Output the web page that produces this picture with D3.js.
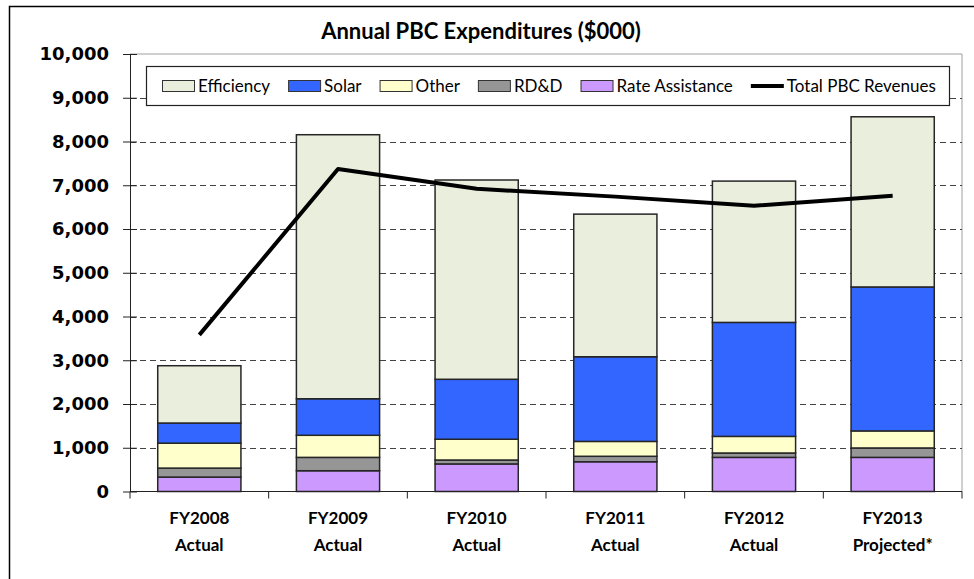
<!DOCTYPE html>
<html>
<head>
<meta charset="utf-8">
<title>Annual PBC Expenditures</title>
<style>
  body { margin: 0; background: #fff; }
  svg { display: block; }
</style>
</head>
<body>
<div id="container"></div>
<script src="https://cdn.jsdelivr.net/npm/d3@7"></script>
<script>

// values ($000)
const categories = ["FY2008", "FY2009", "FY2010", "FY2011", "FY2012", "FY2013"];
const subLabels = ["Actual", "Actual", "Actual", "Actual", "Actual", "Projected*"];
const rateAssistance = [330, 475, 630, 680, 780, 780];
const rdd = [205, 305, 90, 125, 100, 215];
const other = [570, 505, 475, 340, 380, 390];
const solar = [460, 835, 1370, 1935, 2605, 3290];
const efficiency = [1310, 6035, 4555, 3260, 3230, 3890];
const revenues = [3580, 7370, 6920, 6740, 6530, 6760];
const yTicks = [0, 1000, 2000, 3000, 4000, 5000, 6000, 7000, 8000, 9000, 10000];

const series = [
  { key: "Rate Assistance", values: rateAssistance, color: "#cc99ff" },
  { key: "RD&D", values: rdd, color: "#969696" },
  { key: "Other", values: other, color: "#ffffcc" },
  { key: "Solar", values: solar, color: "#3366ff" },
  { key: "Efficiency", values: efficiency, color: "#eaeedc" }
];
const legendOrder = ["Efficiency", "Solar", "Other", "RD&D", "Rate Assistance"];

const width = 974;
const height = 579;
const plotLeft = 130, plotRight = 962, plotTop = 54, plotBottom = 491.5;

const rows = categories.map((c, i) => {
  const o = { cat: c };
  series.forEach(s => { o[s.key] = s.values[i]; });
  return o;
});
const stacked = d3.stack().keys(series.map(s => s.key))(rows);
const colorOf = k => series.find(s => s.key === k).color;

const x = d3.scaleBand()
  .domain(categories)
  .range([plotLeft, plotRight])
  .paddingInner(0.4)
  .paddingOuter(0.2);

const y = d3.scaleLinear()
  .domain([0, 10000])
  .range([plotBottom, plotTop]);

const svg = d3.select("#container")
  .append("svg")
  .attr("width", width)
  .attr("height", height);

// outer frame of the picture
svg.append("path")
  .attr("d", `M9.5,${height} V6.5 H${width}`)
  .attr("fill", "none")
  .attr("stroke", "#000")
  .attr("stroke-width", 1.5);

svg.append("text")
  .attr("x", 481)
  .attr("y", 39)
  .attr("text-anchor", "middle")
  .style("font-family", "Lato, 'Noto Sans', sans-serif")
  .style("font-weight", "bold")
  .style("font-size", "22px")
  .text("Annual PBC Expenditures ($000)");

// plot border (top and right)
svg.append("path")
  .attr("d", `M${plotLeft},${plotTop} H${plotRight} V${plotBottom}`)
  .attr("fill", "none")
  .attr("stroke", "#a0a0a0")
  .attr("stroke-width", 1);

// dashed gridlines
svg.append("g")
  .selectAll("line")
  .data(yTicks.filter(t => t > 0 && t < 10000))
  .join("line")
    .attr("x1", plotLeft)
    .attr("x2", plotRight)
    .attr("y1", d => Math.round(y(d)) + 0.5)
    .attr("y2", d => Math.round(y(d)) + 0.5)
    .attr("stroke", "#444")
    .attr("stroke-width", 1)
    .attr("stroke-dasharray", "6,4");

// bars
svg.append("g")
  .selectAll("g")
  .data(stacked)
  .join("g")
    .attr("fill", d => colorOf(d.key))
  .selectAll("rect")
  .data(d => d)
  .join("rect")
    .attr("x", d => x(d.data.cat))
    .attr("y", d => y(d[1]))
    .attr("width", x.bandwidth())
    .attr("height", d => y(d[0]) - y(d[1]))
    .attr("stroke", "#262626")
    .attr("stroke-width", 1.5);

// revenue line
const line = d3.line()
  .x((d, i) => x(categories[i]) + x.bandwidth() / 2)
  .y(d => y(d));

svg.append("path")
  .datum(revenues)
  .attr("d", line)
  .attr("fill", "none")
  .attr("stroke", "#000")
  .attr("stroke-width", 4)
  .attr("stroke-linejoin", "round");

// y axis
const yAxis = d3.axisLeft(y)
  .tickValues(yTicks)
  .tickSizeInner(7)
  .tickSizeOuter(0)
  .tickPadding(14)
  .tickFormat(d3.format(","));

const gy = svg.append("g")
  .attr("transform", `translate(${plotLeft},0)`)
  .call(yAxis);
gy.select(".domain").attr("stroke", "#222");
gy.selectAll(".tick line").attr("x1", -7).attr("x2", 7).attr("stroke", "#222");
gy.selectAll(".tick text")
  .style("font-family", "'DejaVu Sans', Verdana, sans-serif")
  .style("font-weight", "bold")
  .style("font-size", "18px")
  .attr("fill", "#000");

// x axis
svg.append("line")
  .attr("x1", plotLeft).attr("x2", plotRight)
  .attr("y1", plotBottom).attr("y2", plotBottom)
  .attr("stroke", "#222");

const step = x.step();
svg.append("g")
  .selectAll("line")
  .data(d3.range(categories.length + 1))
  .join("line")
    .attr("x1", i => plotLeft + i * step)
    .attr("x2", i => plotLeft + i * step)
    .attr("y1", plotBottom)
    .attr("y2", plotBottom + 7)
    .attr("stroke", "#222");

const xl = svg.append("g")
  .selectAll("text")
  .data(categories)
  .join("text")
    .attr("x", d => x(d) + x.bandwidth() / 2)
    .attr("text-anchor", "middle")
    .style("font-family", "Lato, 'Noto Sans', sans-serif")
    .style("font-weight", "bold")
    .style("font-size", "17px");
xl.append("tspan").attr("x", d => x(d) + x.bandwidth() / 2).attr("y", 524).text(d => d);
xl.append("tspan").attr("x", d => x(d) + x.bandwidth() / 2).attr("y", 551).text((d, i) => subLabels[i]);

// legend
svg.append("rect")
  .attr("x", 146.5).attr("y", 66.5)
  .attr("width", 803).attr("height", 39)
  .attr("fill", "#fff")
  .attr("stroke", "#222")
  .attr("stroke-width", 1.2);

const legendItems = legendOrder.map(k => ({ key: k, color: colorOf(k), type: "rect" }))
  .concat([{ key: "Total PBC Revenues", type: "line" }]);

let lx = 162;
const lg = svg.append("g");
legendItems.forEach(item => {
  const g = lg.append("g").attr("transform", `translate(${lx},0)`);
  if (item.type === "rect") {
    g.append("rect")
      .attr("x", 0.5).attr("y", 80.5)
      .attr("width", 32).attr("height", 11)
      .attr("fill", item.color)
      .attr("stroke", "#333");
  } else {
    g.append("line")
      .attr("x1", 0).attr("x2", 33)
      .attr("y1", 86).attr("y2", 86)
      .attr("stroke", "#000")
      .attr("stroke-width", 4);
  }
  const t = g.append("text")
    .attr("x", 36)
    .attr("y", 92)
    .style("font-family", "Lato, 'Noto Sans', sans-serif")
    .style("font-size", "17px")
    .text(item.key);
  lx += 36 + t.node().getComputedTextLength() + 18;
});

</script>
</body>
</html>
